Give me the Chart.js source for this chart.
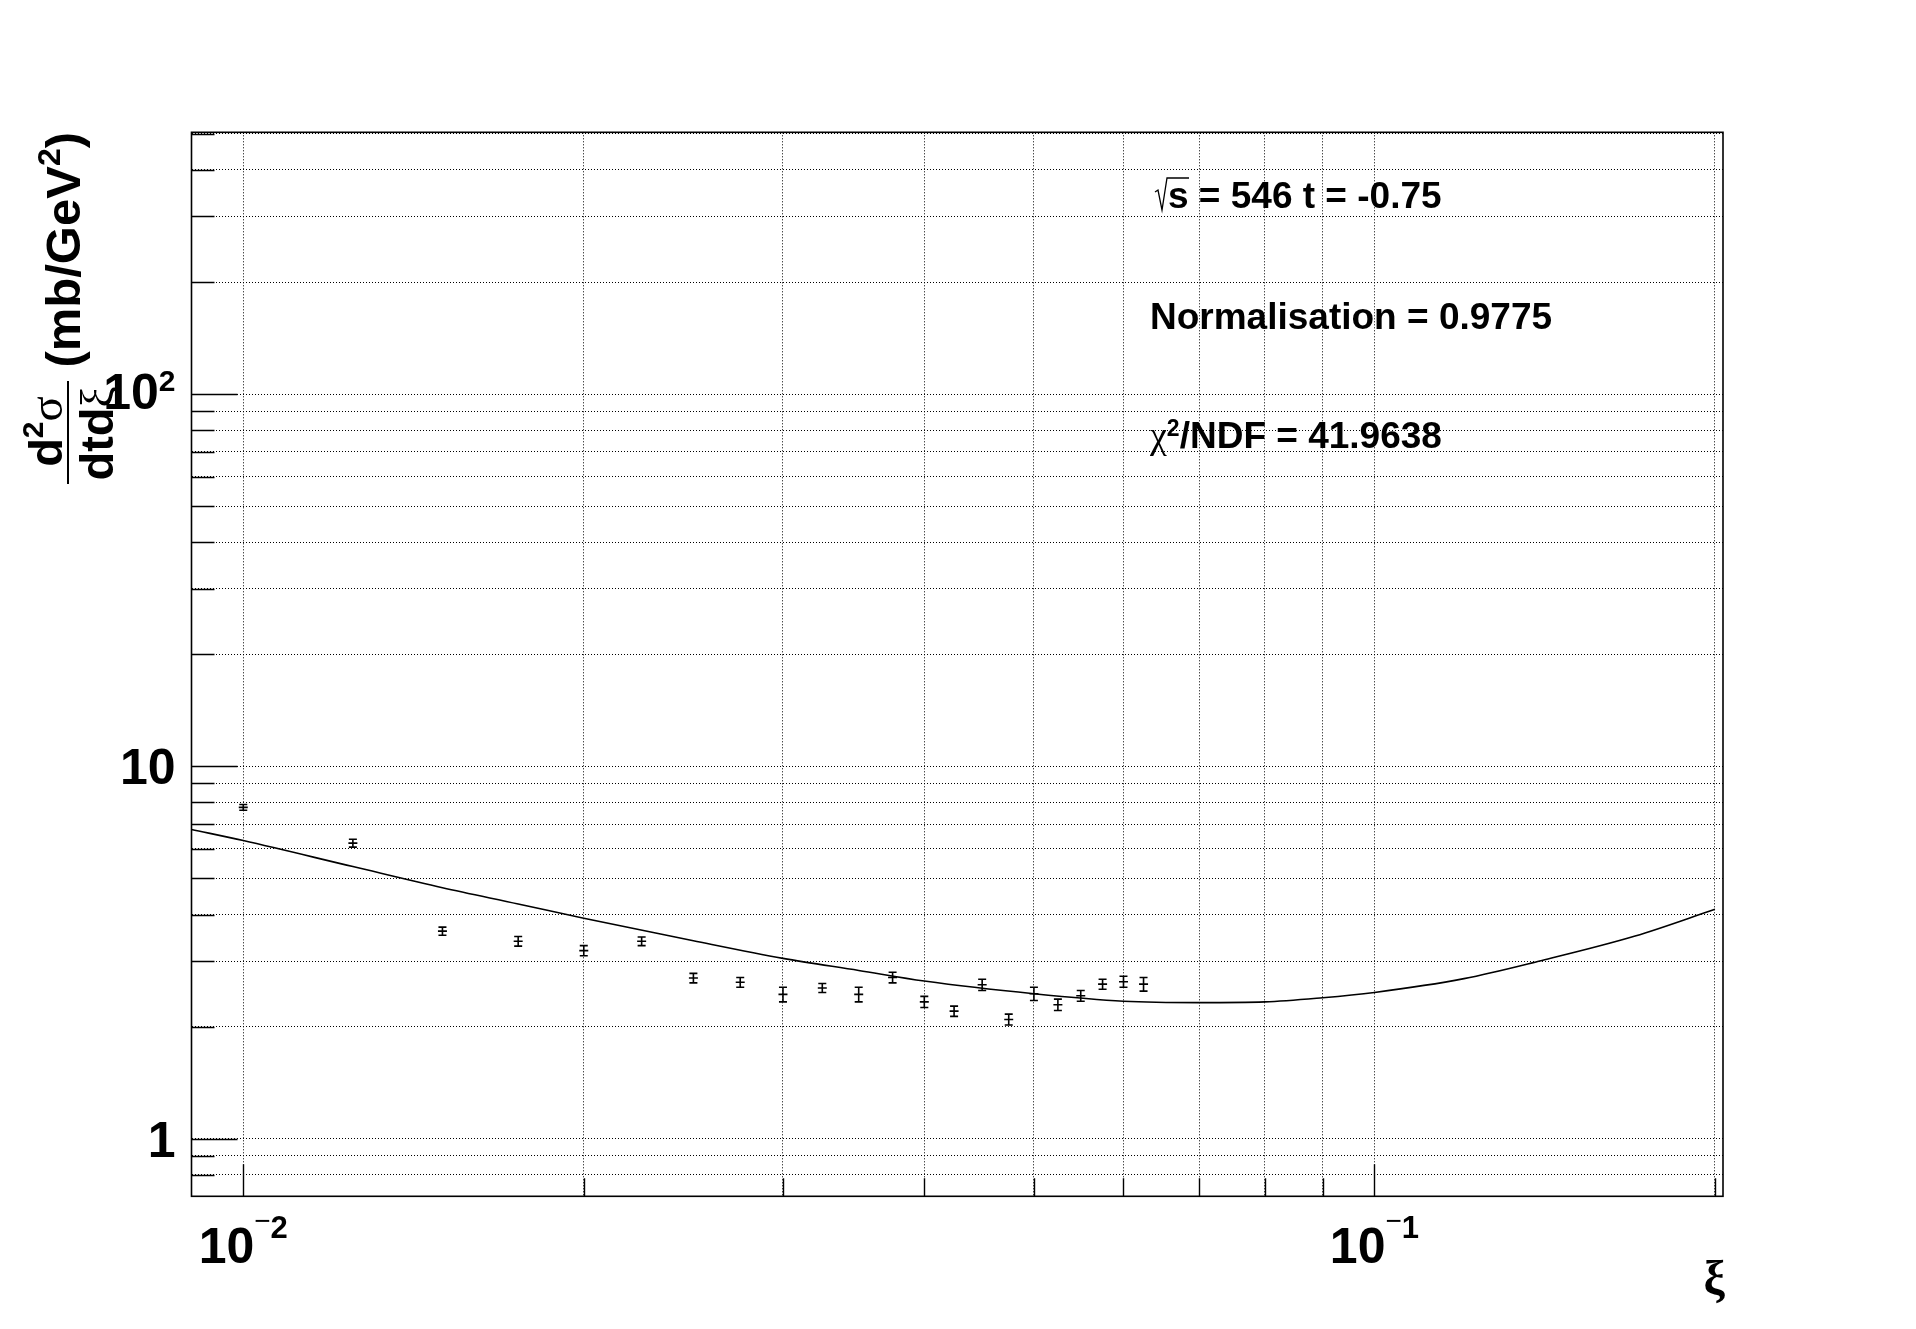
<!DOCTYPE html>
<html>
<head>
<meta charset="utf-8">
<script src="https://cdn.jsdelivr.net/npm/chart.js@4.4.1/dist/chart.umd.min.js"></script>
<style>
  html, body { margin: 0; padding: 0; background: #fff; }
</style>
</head>
<body>
<canvas id="c" width="1916" height="1329"></canvas>
<script>
// measured cross sections, sqrt(s) = 546, t = -0.75
const xi = [0.01, 0.0125, 0.015, 0.0175, 0.02, 0.0225, 0.025, 0.0275, 0.03, 0.0325, 0.035,
            0.0375, 0.04, 0.0425, 0.045, 0.0475, 0.05, 0.0525, 0.055, 0.0575, 0.06, 0.0625];
const sigma = [7.76, 6.22, 3.61, 3.39, 3.20, 3.39, 2.70, 2.63, 2.44, 2.54, 2.44,
               2.71, 2.33, 2.20, 2.59, 2.09, 2.45, 2.29, 2.42, 2.60, 2.64, 2.60];
const sigmaErr = [0.14, 0.15, 0.09, 0.10, 0.10, 0.09, 0.08, 0.08, 0.11, 0.07, 0.11,
                  0.09, 0.08, 0.07, 0.09, 0.07, 0.10, 0.08, 0.08, 0.08, 0.09, 0.11];

// fitted curve
const fitXi = [0.009, 0.01, 0.0125, 0.015, 0.0175, 0.02, 0.025, 0.03, 0.035, 0.04, 0.05,
               0.06, 0.07, 0.08, 0.09, 0.1, 0.12, 0.14, 0.17, 0.2];
const fitSigma = [6.77, 6.32, 5.38, 4.72, 4.27, 3.91, 3.40, 3.05, 2.83, 2.65, 2.45,
                  2.34, 2.32, 2.33, 2.39, 2.47, 2.69, 3.00, 3.50, 4.13];

// axes
const xTicks = [0.01, 0.02, 0.03, 0.04, 0.05, 0.06, 0.07, 0.08, 0.09, 0.1, 0.2];
const xMajor = [0.01, 0.1];
const xTickLabels = [['10', '2'], ['10', '1']];   // 10^-2, 10^-1
const yTicks = [0.8, 0.9, 1, 2, 3, 4, 5, 6, 7, 8, 9, 10, 20, 30, 40, 50, 60, 70, 80, 90,
                100, 200, 300, 400, 500];
const yMajor = [1, 10, 100];
const yTickLabels = [['1', ''], ['10', ''], ['10', '2']];

const notes = ['s = 546 t = -0.75', 'Normalisation = 0.9775', '/NDF = 41.9638'];

const SANS = '"Liberation Sans", Arial, sans-serif';
const GREEK = '"Liberation Serif", serif';

function drawRuns(ctx, runs, x, y) {
  let cx = x;
  for (const [t, font, dy] of runs) {
    ctx.font = font;
    ctx.fillText(t, cx, y + (dy || 0));
    cx += ctx.measureText(t).width;
  }
  return cx;
}

function runsWidth(ctx, runs) {
  let w = 0;
  for (const [t, font] of runs) {
    ctx.font = font;
    w += ctx.measureText(t).width;
  }
  return w;
}

const errorBars = {
  id: 'errorBars',
  afterDatasetsDraw(chart) {
    const { ctx, scales: { x, y } } = chart;
    ctx.save();
    ctx.strokeStyle = '#000';
    ctx.lineWidth = 1.6;
    xi.forEach((v, i) => {
      const px = x.getPixelForValue(v);
      const top = y.getPixelForValue(sigma[i] + sigmaErr[i]);
      const bot = y.getPixelForValue(sigma[i] - sigmaErr[i]);
      ctx.beginPath();
      ctx.moveTo(px, top); ctx.lineTo(px, bot);
      ctx.moveTo(px - 4, top); ctx.lineTo(px + 4, top);
      ctx.moveTo(px - 4, bot); ctx.lineTo(px + 4, bot);
      ctx.stroke();
    });
    ctx.restore();
  }
};

// ROOT-style frame, inward ticks, labels and text
const rootFrame = {
  id: 'rootFrame',
  afterDraw(chart) {
    const { ctx, chartArea: a, scales: { x, y } } = chart;
    ctx.save();
    ctx.strokeStyle = '#000';
    ctx.fillStyle = '#000';

    ctx.lineWidth = 1.6;
    ctx.strokeRect(a.left, a.top, a.right - a.left, a.bottom - a.top);

    ctx.lineWidth = 1.4;
    ctx.beginPath();
    yTicks.forEach(v => {
      const py = Math.round(y.getPixelForValue(v)) + 0.5;
      const len = yMajor.includes(v) ? 46 : 23;
      ctx.moveTo(a.left, py); ctx.lineTo(a.left + len, py);
    });
    xTicks.forEach(v => {
      const px = Math.round(x.getPixelForValue(v)) + 0.5;
      const len = xMajor.includes(v) ? 32 : 18;
      ctx.moveTo(px, a.bottom); ctx.lineTo(px, a.bottom - len);
    });
    ctx.stroke();

    // y tick labels
    ctx.textAlign = 'left';
    ctx.textBaseline = 'alphabetic';
    yMajor.forEach((v, i) => {
      const [base, sup] = yTickLabels[i];
      const runs = [[base, 'bold 50px ' + SANS]];
      if (sup) runs.push([sup, 'bold 30px ' + SANS, -18]);
      const w = runsWidth(ctx, runs);
      const py = y.getPixelForValue(v);
      drawRuns(ctx, runs, a.left - 16 - w, py + (sup ? 15 : 18));
    });

    // x tick labels
    xMajor.forEach((v, i) => {
      const [base, sup] = xTickLabels[i];
      const runs = [[base, 'bold 50px ' + SANS], ['\u2212', '28px ' + SANS, -33], [sup, 'bold 31px ' + SANS, -25]];
      const w = runsWidth(ctx, runs);
      const px = x.getPixelForValue(v);
      drawRuns(ctx, runs, px - w / 2, 1263);
    });

    // x title
    ctx.textAlign = 'right';
    ctx.font = 'bold 48px ' + GREEK;
    ctx.fillText('\u03BE', a.right + 2, 1294);
    ctx.textAlign = 'left';

    // y title, rotated
    ctx.save();
    ctx.rotate(-Math.PI / 2);
    const unit = [['(mb/GeV', 'bold 49px ' + SANS], ['2', 'bold 32px ' + SANS, -20], [')', 'bold 49px ' + SANS]];
    drawRuns(ctx, unit, -132 - runsWidth(ctx, unit), 80);
    const num = [['d', 'bold 47px ' + SANS], ['2', 'bold 30px ' + SANS, -19], ['\u03C3', '47px ' + GREEK]];
    drawRuns(ctx, num, -431.5 - runsWidth(ctx, num) / 2, 62);
    const den = [['dtd', 'bold 47px ' + SANS], ['\u03BE', '47px ' + GREEK]];
    drawRuns(ctx, den, -433.5 - runsWidth(ctx, den) / 2, 113);
    ctx.restore();
    ctx.lineWidth = 2;
    ctx.beginPath();
    ctx.moveTo(68, 381); ctx.lineTo(68, 484);
    ctx.stroke();

    // annotations
    ctx.lineWidth = 1.3;
    ctx.beginPath();
    ctx.moveTo(1155, 192); ctx.lineTo(1158, 190); ctx.lineTo(1162, 210);
    ctx.lineTo(1167, 178); ctx.lineTo(1189, 178);
    ctx.stroke();
    ctx.font = 'bold 37px ' + SANS;
    ctx.fillText(notes[0], 1168, 208);
    ctx.fillText(notes[1], 1150, 329);
    drawRuns(ctx, [['\u03C7', '38px ' + GREEK], ['2', 'bold 23px ' + SANS, -12], [notes[2], 'bold 37px ' + SANS]], 1150, 448);

    ctx.restore();
  }
};

function logAxis(min, max, ticks, isX) {
  return {
    type: 'logarithmic',
    min: min,
    max: max,
    afterBuildTicks: s => { s.ticks = ticks.map(v => ({ value: v })); },
    afterFit: s => { if (isX) s.height = 0; else s.width = 0; },
    ticks: { display: false },
    grid: { color: '#000', lineWidth: 1, drawTicks: false, tickLength: 0 },
    border: { display: false, dash: [1, 2] }
  };
}

new Chart(document.getElementById('c'), {
  type: 'scatter',
  data: {
    datasets: [
      {
        type: 'line',
        data: fitXi.map((v, i) => ({ x: v, y: fitSigma[i] })),
        borderColor: '#000',
        borderWidth: 1.6,
        pointRadius: 0,
        cubicInterpolationMode: 'monotone',
        fill: false
      },
      {
        type: 'scatter',
        data: xi.map((v, i) => ({ x: v, y: sigma[i] })),
        pointStyle: 'line',
        pointRadius: 4.5,
        borderColor: '#000',
        backgroundColor: '#000',
        borderWidth: 1.6
      }
    ]
  },
  options: {
    responsive: false,
    animation: false,
    layout: { padding: { left: 191.5, right: 193, top: 132.3, bottom: 132.7 } },
    plugins: { legend: { display: false }, tooltip: { enabled: false } },
    scales: {
      x: logAxis(0.009, 0.2033, xTicks, true),
      y: logAxis(0.717, 505, yTicks, false)
    }
  },
  plugins: [errorBars, rootFrame]
});
</script>
</body>
</html>
